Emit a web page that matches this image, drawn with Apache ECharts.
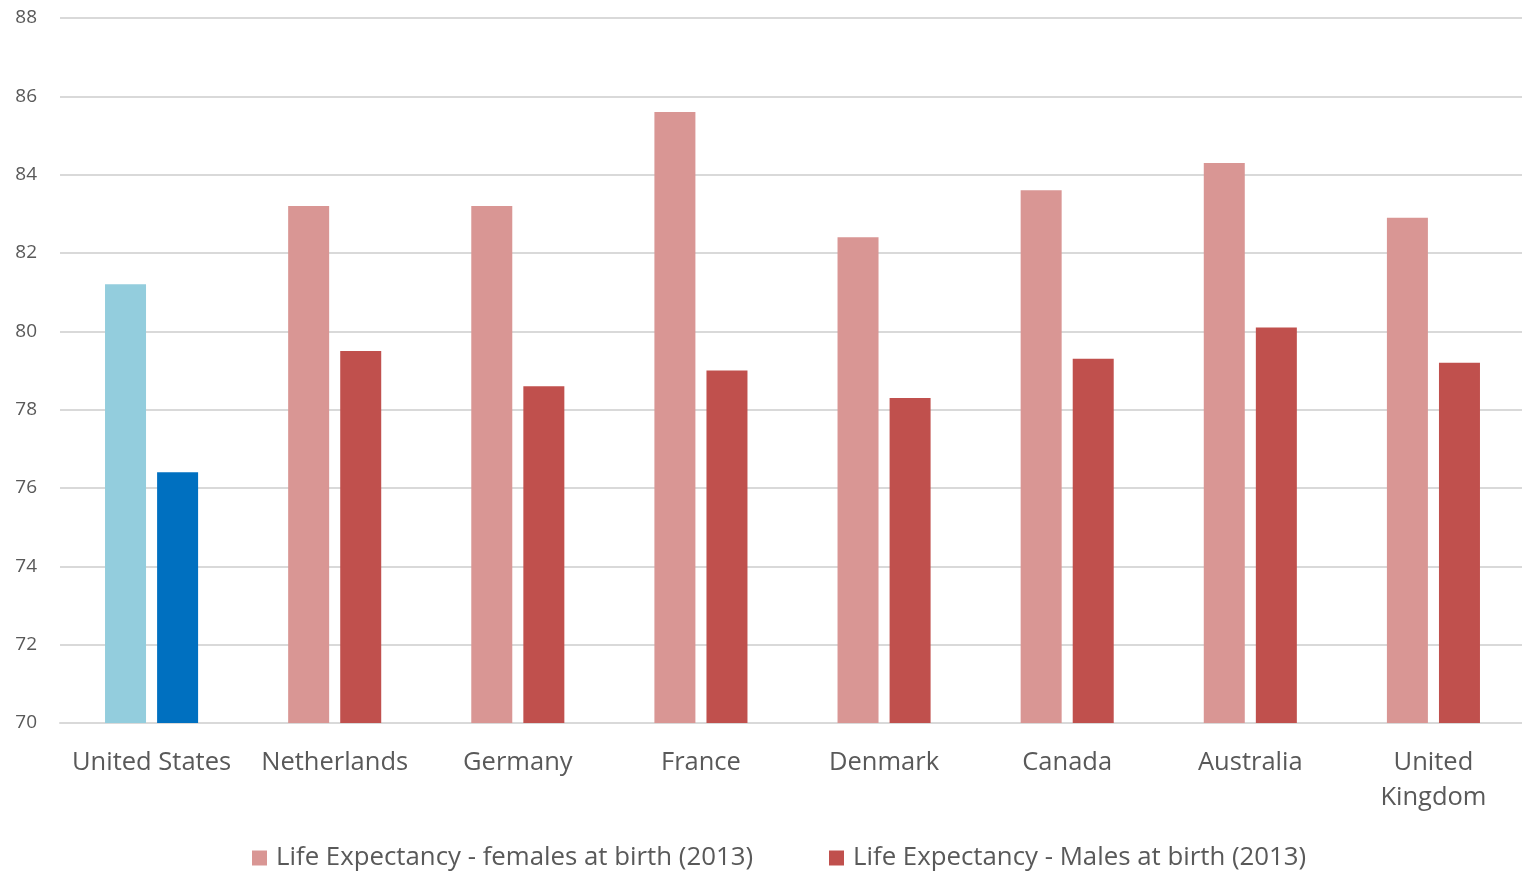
<!DOCTYPE html>
<html>
<head>
<meta charset="utf-8">
<script src="https://cdn.jsdelivr.net/npm/echarts@6/dist/echarts.min.js"></script>
<style>
  html, body { margin: 0; padding: 0; background: #fff; }
  #chart { width: 1522px; height: 872px; }
</style>
</head>
<body>
<div id="chart"></div>
<script>
const countries = ['United States', 'Netherlands', 'Germany', 'France', 'Denmark', 'Canada', 'Australia', 'United Kingdom']
const females = [81.2, 83.2, 83.2, 85.6, 82.4, 83.6, 84.3, 82.9]
const males = [76.4, 79.5, 78.6, 79.0, 78.3, 79.3, 80.1, 79.2]
const seriesNames = ['Life Expectancy - females at birth (2013)', 'Life Expectancy - Males at birth (2013)']

const textColor = '#595959'
const font = '"Open Sans", "Noto Sans", sans-serif'

// US bars are highlighted in blue
function withHighlight(values, highlight) {
    return values.map(function(v, i) {
        if (i === 0) return { value: v, itemStyle: { color: highlight } }
        return v
    })
}

const chart = echarts.init(document.getElementById('chart'))
chart.setOption({
    animation: false,
    textStyle: { fontFamily: font },
    grid: { left: 60, width: 1465, top: 18, bottom: 149, containLabel: false, outerBoundsMode: 'none' },
    legend: {
        top: 840,
        left: 247,
        itemWidth: 15,
        itemHeight: 15,
        itemGap: 76,
        icon: 'rect',
        textStyle: { color: textColor, fontSize: 25.8, fontFamily: font, padding: [0, 0, 0, 4] },
        data: seriesNames
    },
    xAxis: {
        type: 'category',
        data: countries,
        axisTick: { show: false },
        axisLine: { show: true, lineStyle: { color: '#d9d9d9', width: 2 } },
        axisLabel: {
            color: textColor,
            fontSize: 25.5,
            lineHeight: 35,
            margin: 22,
            interval: 0,
            formatter: function(v) { return v === 'United Kingdom' ? 'United\nKingdom' : v }
        }
    },
    yAxis: {
        type: 'value',
        min: 70,
        max: 88,
        interval: 2,
        axisLine: { show: false },
        axisTick: { show: false },
        splitLine: { lineStyle: { color: '#d9d9d9', width: 2 } },
        axisLabel: { color: textColor, fontSize: 19, margin: 23 }
    },
    series: [{
        name: seriesNames[0],
        type: 'bar',
        barWidth: 41,
        barGap: '27%',
        itemStyle: { color: '#d99694' },
        data: withHighlight(females, '#93cddd')
    }, {
        name: seriesNames[1],
        type: 'bar',
        barWidth: 41,
        itemStyle: { color: '#c0504d' },
        data: withHighlight(males, '#0070c0')
    }]
})
</script>
</body>
</html>
